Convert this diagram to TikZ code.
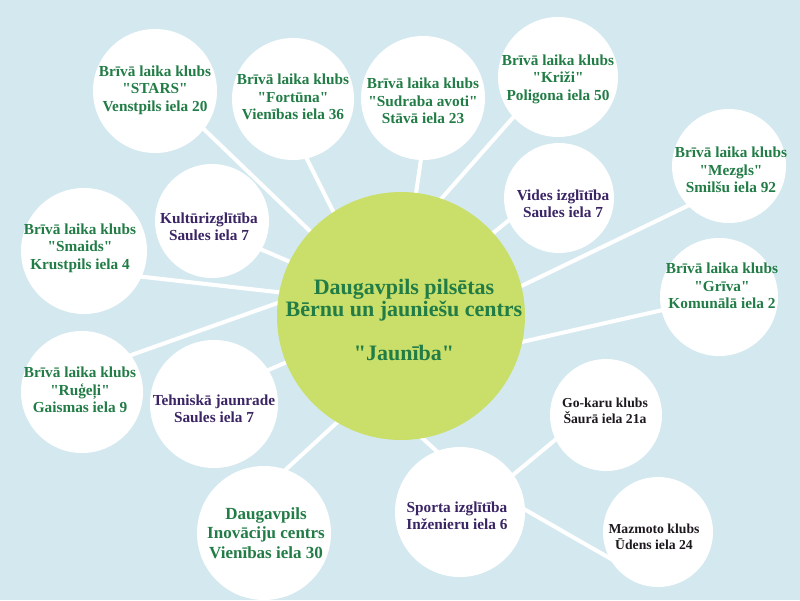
\documentclass[tikz,border=0pt]{standalone}
\usepackage{fontspec}
\setmainfont{Liberation Serif}[Ligatures=TeXOff]
\usetikzlibrary{backgrounds}
\definecolor{bgblue}{RGB}{212,233,239}
\definecolor{hubgreen}{RGB}{201,223,106}
\definecolor{dgreen}{RGB}{34,124,70}
\definecolor{dpurple}{RGB}{58,36,100}
\definecolor{dblack}{RGB}{30,25,30}
\tikzset{
    bubble/.style={circle, fill=white, inner sep=0pt},
    hubcircle/.style={circle, fill=hubgreen, inner sep=0pt, minimum size=248pt},
    link/.style={draw=white, line width=4pt, shorten <=-5pt, shorten >=-5pt},
}

\begin{document}
\begin{tikzpicture}[
    x=1pt, y=-1pt,
    clubtxt/.style={font=\fontsize{15.3}{17.5}\selectfont\bfseries, text=dgreen, align=center, inner sep=0pt},
    edutxt/.style={clubtxt, text=dpurple},
    smalltxt/.style={clubtxt, font=\fontsize{13.7}{16}\selectfont\bfseries, text=dblack},
    bigtxt/.style={clubtxt, font=\fontsize{17}{19.5}\selectfont\bfseries},
    hubtxt/.style={clubtxt, font=\fontsize{22}{21.7}\selectfont\bfseries},
]
\useasboundingbox (0,0) rectangle (800,600);

% Centre
\node[hubcircle] (hub) at (401,316) {};
\node[hubtxt] (hubt) at (404,320) {Daugavpils pilsētas\\Bērnu un jauniešu centrs\\[21.7pt]"Jaunība"};

% Top row of clubs
\node[bubble, minimum size=124pt] (stars) at (155,91) {};
\node[clubtxt] (starst) at (155,90) {Brīvā laika klubs\\"STARS"\\Venstpils iela 20};
\node[bubble, minimum size=122pt] (fortuna) at (293,99) {};
\node[clubtxt] (fortunat) at (293,97) {Brīvā laika klubs\\"Fortūna"\\Vienības iela 36};
\node[bubble, minimum size=124pt] (sudraba) at (423,98) {};
\node[clubtxt] (sudrabat) at (423,101) {Brīvā laika klubs\\"Sudraba avoti"\\Stāvā iela 23};
\node[bubble, minimum size=120pt] (krizi) at (558,77) {};
\node[clubtxt] (krizit) at (558,79) {Brīvā laika klubs\\"Križi"\\Poligona iela 50};

% Right side
\node[bubble, minimum size=110pt] (vides) at (559,198) {};
\node[edutxt] (videst) at (563,204) {Vides izglītība\\Saules iela 7};
\node[bubble, minimum size=114pt] (mezgls) at (729,166) {};
\node[clubtxt] (mezglst) at (731,170) {Brīvā laika klubs\\"Mezgls"\\Smilšu iela 92};
\node[bubble, minimum size=118pt] (griva) at (719,297) {};
\node[clubtxt] (grivat) at (722,286) {Brīvā laika klubs\\"Grīva"\\Komunālā iela 2};

% Left side
\node[bubble, minimum size=114pt] (kultura) at (212,221) {};
\node[edutxt] (kulturat) at (209,227) {Kultūrizglītība\\Saules iela 7};
\node[bubble, minimum size=126pt] (smaids) at (84,251) {};
\node[clubtxt] (smaidst) at (80,248) {Brīvā laika klubs\\"Smaids"\\Krustpils iela 4};
\node[bubble, minimum size=122pt] (rugeli) at (82,392) {};
\node[clubtxt] (rugelit) at (80,390) {Brīvā laika klubs\\"Ruģeļi"\\Gaismas iela 9};
\node[bubble, minimum size=128pt] (tehnika) at (214,404) {};
\node[edutxt] (tehnikat) at (214,409) {Tehniskā jaunrade\\Saules iela 7};

% Bottom
\node[bubble, minimum size=134pt] (inovacijas) at (264,533) {};
\node[bigtxt] (inovacijast) at (266,533) {Daugavpils\\Inovāciju centrs\\Vienības iela 30};
\node[bubble, minimum size=130pt] (sports) at (460,512) {};
\node[edutxt] (sportst) at (457,516) {Sporta izglītība\\Inženieru iela 6};
\node[bubble, minimum size=112pt] (gokart) at (606,415) {};
\node[smalltxt] (gokartt) at (605,411) {Go-karu klubs\\Šaurā iela 21a};
\node[bubble, minimum size=110pt] (mazmoto) at (658,532) {};
\node[smalltxt] (mazmotot) at (654,537) {Mazmoto klubs\\Ūdens iela 24};

% Links behind the circles
\begin{scope}[on background layer]
\fill[bgblue] (0,0) rectangle (800,600);
\draw[link] (stars.-38) -- (hub.137);
\draw[link] (fortuna.-77) -- (hub.123);
\draw[link] (sudraba.-92) -- (hub.83);
\draw[link] (krizi.222) -- (hub.71);
\draw[link] (vides.204) -- (hub.42);
\draw[link] (mezgls.224) -- (hub.14);
\draw[link] (griva.193) -- (hub.-12);
\draw[link] (kultura.-30) -- (hub.154);
\draw[link] (smaids.-24) -- (hub.169);
\draw[link] (rugeli.37) -- (hub.174);
\draw[link] (tehnika.32) -- (hub.202);
\draw[link] (inovacijas.71) -- (hub.239);
\draw[link] (sports.111) -- (hub.-80);
\draw[link] (sports.35) -- (gokart.206);
\draw[link] (sports.2) -- (mazmoto.208);
\end{scope}

\end{tikzpicture}
\end{document}
